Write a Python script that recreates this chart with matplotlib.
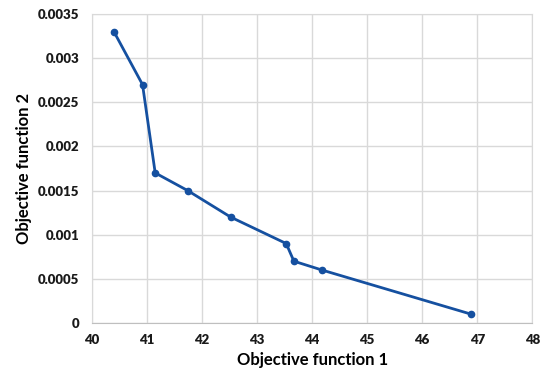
import matplotlib
matplotlib.use('Agg')
import matplotlib.pyplot as plt

# values
obj1 = [40.4, 40.92, 41.15, 41.74, 42.52, 43.53, 43.67, 44.18, 46.89]
obj2 = [0.0033, 0.0027, 0.0017, 0.0015, 0.0012, 0.0009, 0.0007, 0.0006, 0.0001]
x_ticks = [40, 41, 42, 43, 44, 45, 46, 47, 48]
y_ticks = [0, 0.0005, 0.001, 0.0015, 0.002, 0.0025, 0.003, 0.0035]
y_labels = ['0', '0.0005', '0.001', '0.0015', '0.002', '0.0025', '0.003', '0.0035']

plt.rcParams['font.family'] = ['Lato', 'DejaVu Sans']
plt.rcParams['font.weight'] = 'bold'

fig = plt.figure(figsize=(5.47, 3.78), dpi=100)
ax = fig.add_axes([0.168, 0.1455, 0.805, 0.8175])

ax.plot(obj1, obj2, color='#1550a0', linewidth=2, marker='o', markersize=4.5)

ax.set_xlim(40, 48)
ax.set_ylim(0, 0.0035)
ax.set_xticks(x_ticks)
ax.set_yticks(y_ticks)
ax.set_yticklabels(y_labels)

ax.grid(True, color='#d9d9d9', linewidth=1)
ax.set_axisbelow(True)
for side in ['top', 'right', 'left']:
    ax.spines[side].set_color('#d9d9d9')
ax.spines['bottom'].set_color('#bfbfbf')
ax.tick_params(length=0, labelsize=9.5, colors='#1a1a1a')
ax.tick_params(axis='y', pad=9)
ax.tick_params(axis='x', pad=8)
for lbl in ax.get_xticklabels() + ax.get_yticklabels():
    lbl.set_fontweight('heavy')

ax.set_xlabel('Objective function 1', fontsize=12, fontweight='bold', labelpad=4)
ax.set_ylabel('Objective function 2', fontsize=12, fontweight='bold', labelpad=4)

plt.savefig('out.png', dpi=100)
plt.close(fig)
